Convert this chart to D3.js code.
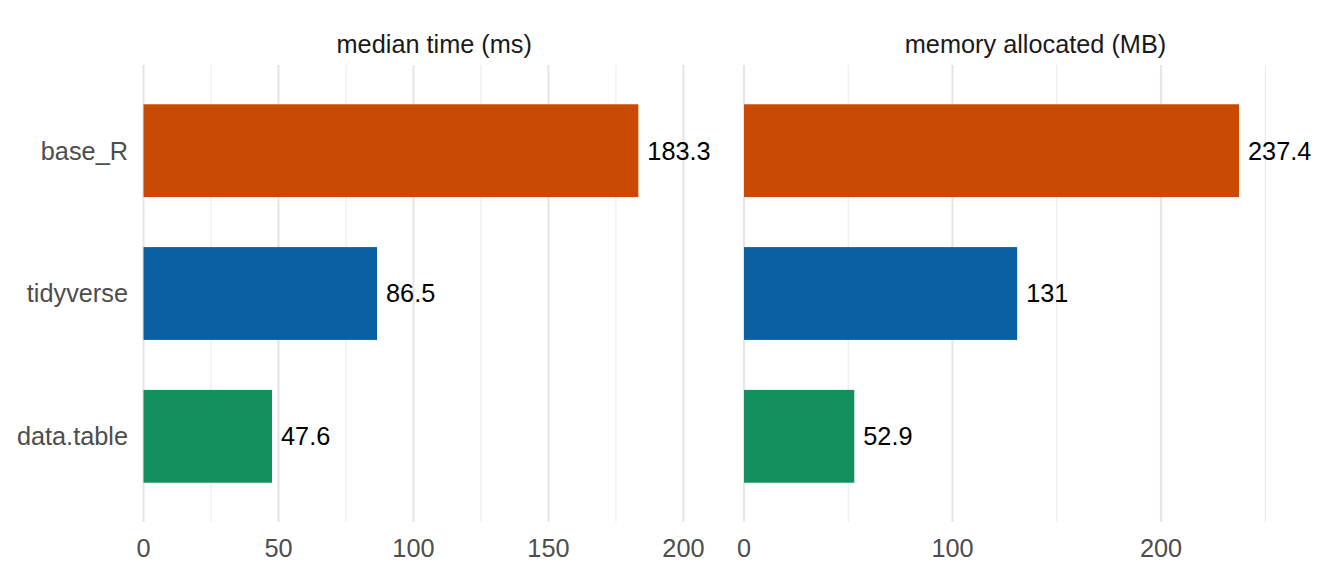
<!DOCTYPE html>
<html>
<head>
<meta charset="utf-8">
<script src="https://cdn.jsdelivr.net/npm/d3@7"></script>
<style>
body { margin: 0; background: #fff; }
text { font-family: "Liberation Sans", Arial, sans-serif; }
</style>
</head>
<body>
<script>
var categories = ["base_R", "tidyverse", "data.table"];
var timeValues = [183.3, 86.5, 47.6];
var memValues = [237.4, 131, 52.9];
var panelTitles = ["median time (ms)", "memory allocated (MB)"];
var timeTicks = [0, 50, 100, 150, 200];
var timeMinor = [25, 75, 125, 175];
var memTicks = [0, 100, 200];
var memMinor = [50, 150, 250];
var barColors = ["#C84A03", "#0B5FA3", "#14905F"];

var w = 1344;
var h = 576;
var panelTop = 65, panelBottom = 522;
var fontSize = "25.3px";

var svg = d3.select("body").append("svg").attr("width", w).attr("height", h);

// discrete y scale like ggplot: 0.6 expansion each side, bar width 0.65
var yPos = d3.scaleLinear().domain([0.4, 3.6]).range([panelTop, panelBottom]);
var barH = yPos(1.65) - yPos(1);

var panels = [
    {title: panelTitles[0], values: timeValues, ticks: timeTicks, minor: timeMinor,
     x: d3.scaleLinear().domain([0, 215.4]).range([143.5, 725])},
    {title: panelTitles[1], values: memValues, ticks: memTicks, minor: memMinor,
     x: d3.scaleLinear().domain([0, 279.6]).range([744, 1327])}
];

panels.forEach(function (p) {
    var g = svg.append("g");
    var minor = p.minor.filter(function (d) { return p.x(d) <= p.x.range()[1]; });

    g.selectAll("line.minor").data(minor).enter().append("line")
        .attr("class", "minor")
        .attr("x1", function (d) { return p.x(d); })
        .attr("x2", function (d) { return p.x(d); })
        .attr("y1", panelTop).attr("y2", panelBottom)
        .attr("stroke", "#EBEBEB").attr("stroke-width", 1.1);

    g.selectAll("line.major").data(p.ticks).enter().append("line")
        .attr("class", "major")
        .attr("x1", function (d) { return p.x(d); })
        .attr("x2", function (d) { return p.x(d); })
        .attr("y1", panelTop).attr("y2", panelBottom)
        .attr("stroke", "#E6E6E6").attr("stroke-width", 2.2);

    g.selectAll("rect").data(p.values).enter().append("rect")
        .attr("x", p.x(0))
        .attr("y", function (d, i) { return yPos(i + 1) - barH / 2; })
        .attr("width", function (d) { return p.x(d) - p.x(0); })
        .attr("height", barH)
        .attr("fill", function (d, i) { return barColors[i]; });

    g.selectAll("text.val").data(p.values).enter().append("text")
        .attr("class", "val")
        .attr("x", function (d) { return p.x(d) + 9; })
        .attr("y", function (d, i) { return yPos(i + 1); })
        .attr("dy", "0.35em")
        .attr("font-size", fontSize)
        .attr("fill", "#000")
        .text(function (d) { return d; });

    g.selectAll("text.tick").data(p.ticks).enter().append("text")
        .attr("class", "tick")
        .attr("x", function (d) { return p.x(d); })
        .attr("y", 548)
        .attr("dy", "0.35em")
        .attr("text-anchor", "middle")
        .attr("font-size", fontSize)
        .attr("fill", "#4D4D4D")
        .text(function (d) { return d; });

    var r = p.x.range();
    g.append("text")
        .attr("x", (r[0] + r[1]) / 2)
        .attr("y", 44)
        .attr("dy", "0.35em")
        .attr("text-anchor", "middle")
        .attr("font-size", fontSize)
        .attr("fill", "#1A1A1A")
        .text(p.title);
});

svg.selectAll("text.cat").data(categories).enter().append("text")
    .attr("class", "cat")
    .attr("x", 128)
    .attr("y", function (d, i) { return yPos(i + 1); })
    .attr("dy", "0.35em")
    .attr("text-anchor", "end")
    .attr("font-size", fontSize)
    .attr("fill", "#4D4D4D")
    .text(function (d) { return d; });
</script>
</body>
</html>
